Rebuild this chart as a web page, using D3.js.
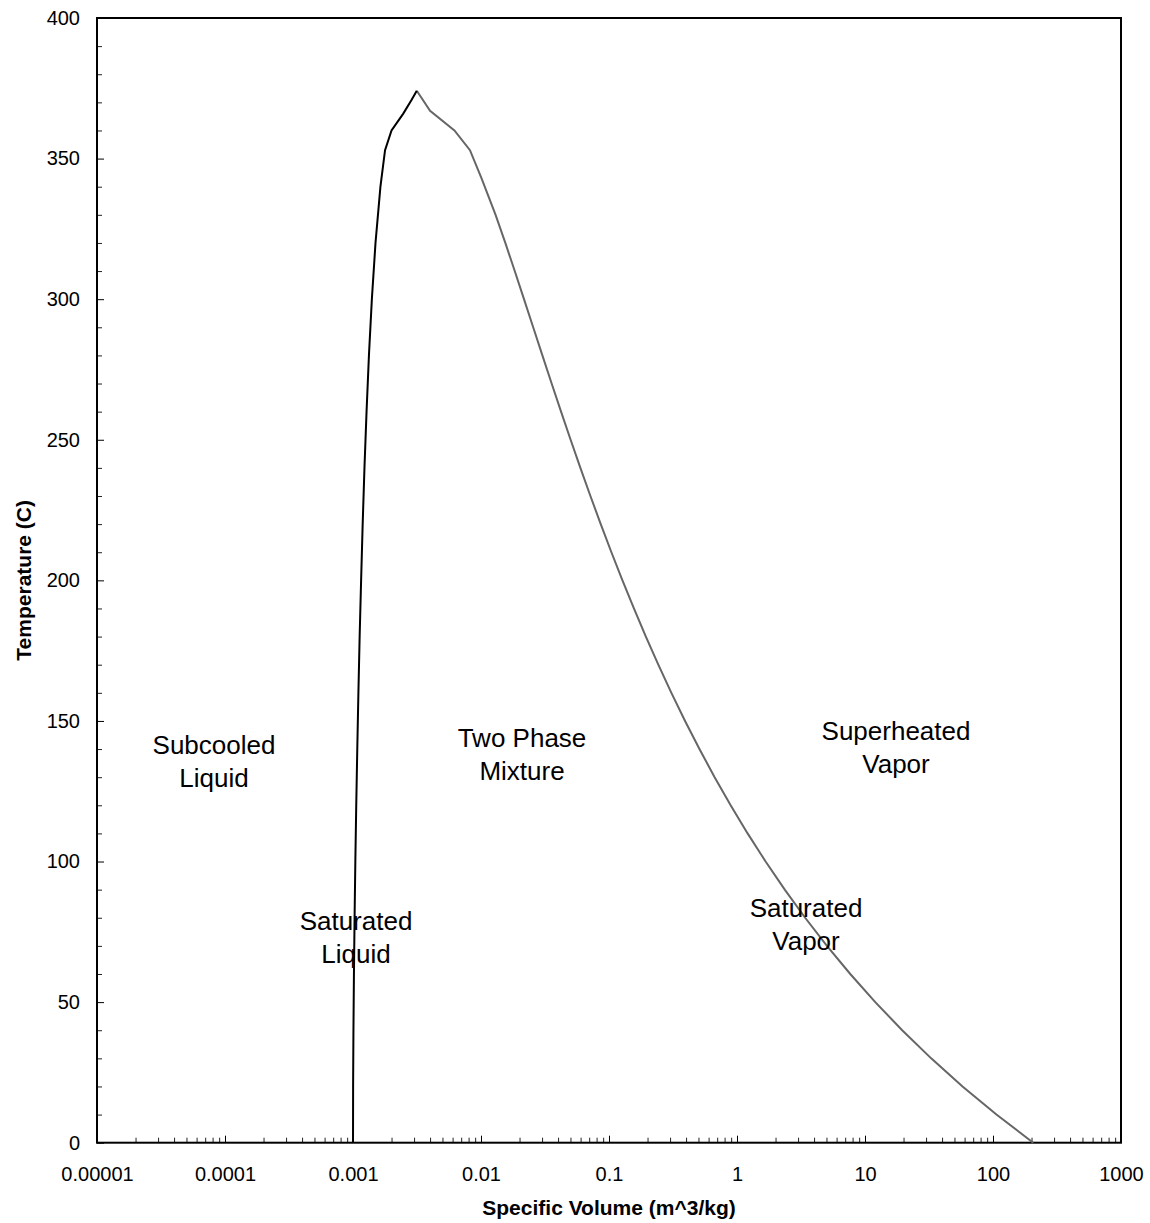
<!DOCTYPE html>
<html>
<head>
<meta charset="utf-8">
<script src="https://cdn.jsdelivr.net/npm/d3@7"></script>
<style>
  body { margin: 0; background: #fff; }
  text { font-family: Arial, "Liberation Sans", sans-serif; fill: #000; }
</style>
</head>
<body>
<svg width="1150" height="1223"></svg>
<script>
// saturated liquid line (temperature C, specific volume m^3/kg)
const liqTemp = [0.01, 20, 40, 60, 80, 100, 120, 140, 160, 180, 200, 220, 240, 260, 280, 300, 320, 340, 353, 360, 366, 371, 374.14];
const liqVol = [0.001000, 0.001002, 0.001008, 0.001017, 0.001029, 0.001043, 0.001060, 0.001080, 0.001102, 0.001127,
  0.001157, 0.001190, 0.001229, 0.001276, 0.001332, 0.001404, 0.001499, 0.001638, 0.00178, 0.00200, 0.00247, 0.00288, 0.00315];

// saturated vapor line
const vapTemp = [374.14, 367, 360, 353, 343, 330, 320, 310, 300, 290, 280, 270, 260, 250, 240, 230, 220, 210, 200,
  190, 180, 170, 160, 150, 140, 130, 120, 110, 100, 90, 80, 70, 60, 50, 40, 30, 20, 10, 0.01];
const vapVol = [0.00315, 0.0040, 0.0062, 0.0082, 0.0101, 0.01300, 0.01549, 0.01835, 0.02167, 0.02557, 0.03017, 0.03564,
  0.04221, 0.05013, 0.05976, 0.07158, 0.08619, 0.10441, 0.12736, 0.15654, 0.19405, 0.2428, 0.3071, 0.3928, 0.5089,
  0.6685, 0.8919, 1.2102, 1.6729, 2.361, 3.407, 5.042, 7.671, 12.03, 19.52, 32.89, 57.79, 106.38, 206.14];

const xTickValues = [0.00001, 0.0001, 0.001, 0.01, 0.1, 1, 10, 100, 1000];
const xTickLabels = ["0.00001", "0.0001", "0.001", "0.01", "0.1", "1", "10", "100", "1000"];
const yTickValues = [0, 50, 100, 150, 200, 250, 300, 350, 400];

const regionLabels = [
  {lines: ["Subcooled", "Liquid"], x: 214, y: 754},
  {lines: ["Two Phase", "Mixture"], x: 522, y: 747},
  {lines: ["Superheated", "Vapor"], x: 896, y: 740},
  {lines: ["Saturated", "Liquid"], x: 356, y: 930},
  {lines: ["Saturated", "Vapor"], x: 806, y: 917}
];

const plotLeft = 97, plotRight = 1121, plotTop = 18, plotBottom = 1142.7;

const svg = d3.select("svg");

const x = d3.scaleLog().domain([0.00001, 1000]).range([plotLeft, plotRight]);
const y = d3.scaleLinear().domain([0, 400]).range([plotBottom, plotTop]);

// minor ticks
const xMinor = x.ticks().filter(v => !xTickValues.some(t => Math.abs(t - v) / t < 1e-6));
svg.append("g")
  .attr("transform", `translate(0, ${plotBottom})`)
  .call(d3.axisBottom(x).tickValues(xMinor).tickSizeInner(-5).tickSizeOuter(0).tickFormat(""))
  .call(g => g.select(".domain").remove())
  .selectAll("line").attr("stroke", "#222");

const yMinor = d3.range(0, 401, 10).filter(v => v % 50 !== 0);
svg.append("g")
  .attr("transform", `translate(${plotLeft}, 0)`)
  .call(d3.axisLeft(y).tickValues(yMinor).tickSizeInner(-5).tickSizeOuter(0).tickFormat(""))
  .call(g => g.select(".domain").remove())
  .selectAll("line").attr("stroke", "#222");

// major ticks + labels
const xAxis = svg.append("g")
  .attr("transform", `translate(0, ${plotBottom})`)
  .call(d3.axisBottom(x).tickValues(xTickValues).tickSizeInner(-7).tickSizeOuter(0).tickPadding(24)
    .tickFormat((d, i) => xTickLabels[i]));
xAxis.select(".domain").remove();
xAxis.selectAll("line").attr("stroke", "#000");
xAxis.selectAll("text").style("font-size", "20px").attr("font-family", null);

const yAxis = svg.append("g")
  .attr("transform", `translate(${plotLeft}, 0)`)
  .call(d3.axisLeft(y).tickValues(yTickValues).tickSizeInner(-7).tickSizeOuter(0).tickPadding(17));
yAxis.select(".domain").remove();
yAxis.selectAll("line").attr("stroke", "#000");
yAxis.selectAll("text").style("font-size", "20px").attr("font-family", null);

// frame
svg.append("rect")
  .attr("x", plotLeft)
  .attr("y", plotTop)
  .attr("width", plotRight - plotLeft)
  .attr("height", plotBottom - plotTop)
  .attr("fill", "none")
  .attr("stroke", "#000")
  .attr("stroke-width", 2);

const line = d3.line()
  .x(d => x(d[1]))
  .y(d => y(d[0]));

svg.append("path")
  .datum(vapTemp.map((t, i) => [t, vapVol[i]]))
  .attr("d", line)
  .attr("fill", "none")
  .attr("stroke", "#666")
  .attr("stroke-width", 2);

svg.append("path")
  .datum(liqTemp.map((t, i) => [t, liqVol[i]]))
  .attr("d", line)
  .attr("fill", "none")
  .attr("stroke", "#000")
  .attr("stroke-width", 2);

// region labels
regionLabels.forEach(r => {
  const t = svg.append("text")
    .attr("text-anchor", "middle")
    .style("font-size", "26px");
  r.lines.forEach((s, i) => {
    t.append("tspan")
      .attr("x", r.x)
      .attr("y", r.y + i * 33)
      .text(s);
  });
});

// axis titles
svg.append("text")
  .attr("x", (plotLeft + plotRight) / 2)
  .attr("y", 1215)
  .attr("text-anchor", "middle")
  .style("font-size", "21px")
  .style("font-weight", "bold")
  .text("Specific Volume (m^3/kg)");

svg.append("text")
  .attr("transform", `translate(30.5, ${(plotTop + plotBottom) / 2}) rotate(-90)`)
  .attr("text-anchor", "middle")
  .style("font-size", "21px")
  .style("font-weight", "bold")
  .text("Temperature (C)");
</script>
</body>
</html>
